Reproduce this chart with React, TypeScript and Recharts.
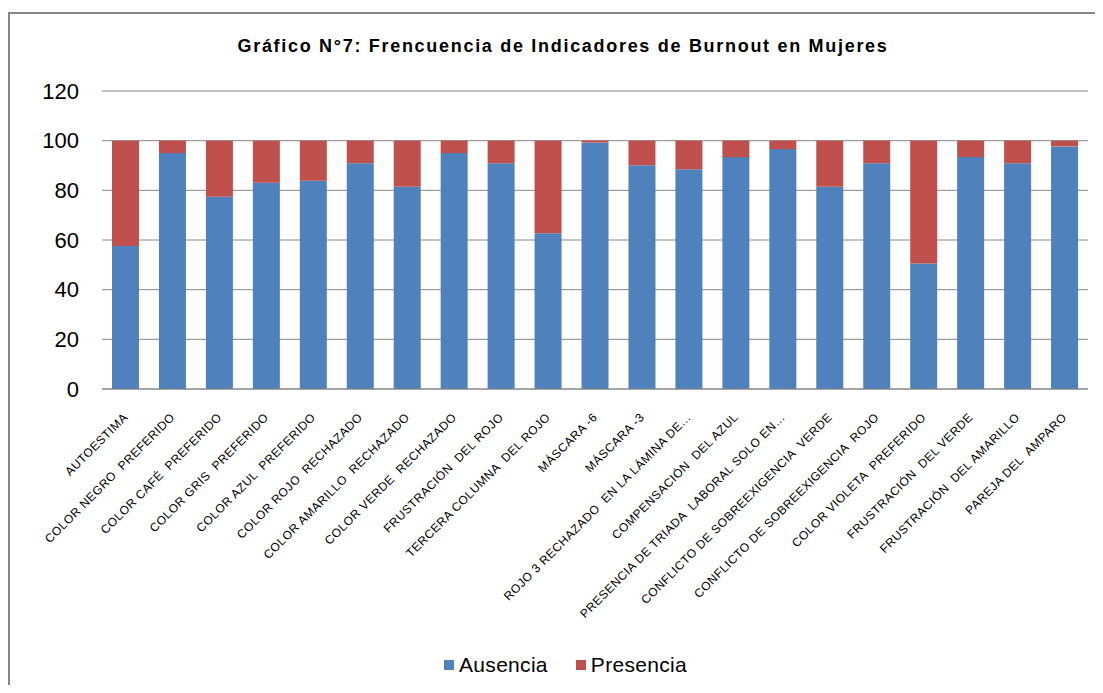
import React from 'react';
import { BarChart, Bar, XAxis, YAxis, CartesianGrid, Legend } from 'recharts';

const categories = [
  'AUTOESTIMA',
  'COLOR NEGRO  PREFERIDO',
  'COLOR CAFÉ  PREFERIDO',
  'COLOR GRIS  PREFERIDO',
  'COLOR AZUL  PREFERIDO',
  'COLOR ROJO  RECHAZADO',
  'COLOR AMARILLO  RECHAZADO',
  'COLOR VERDE  RECHAZADO',
  'FRUSTRACIÓN  DEL ROJO',
  'TERCERA COLUMNA  DEL ROJO',
  'MÁSCARA -6',
  'MÁSCARA -3',
  'ROJO 3 RECHAZADO  EN LA LÁMINA DE…',
  'COMPENSACIÓN  DEL AZUL',
  'PRESENCIA DE TRIADA  LABORAL SOLO EN…',
  'CONFLICTO DE SOBREEXIGENCIA  VERDE',
  'CONFLICTO DE SOBREEXIGENCIA  ROJO',
  'COLOR VIOLETA  PREFERIDO',
  'FRUSTRACIÓN  DEL VERDE',
  'FRUSTRACIÓN  DEL AMARILLO',
  'PAREJA DEL  AMPARO',
];

const ausencia = [57.6, 95.0, 77.4, 83.1, 83.9, 90.9, 81.4, 95.0, 90.9, 62.7, 99.2, 90.1, 88.5, 93.4, 96.6, 81.4, 90.9, 50.5, 93.4, 90.9, 97.7];
const presencia = [42.4, 5.0, 22.6, 16.9, 16.1, 9.1, 18.6, 5.0, 9.1, 37.3, 0.8, 9.9, 11.5, 6.6, 3.4, 18.6, 9.1, 49.5, 6.6, 9.1, 2.3];

const yTicks = [0, 20, 40, 60, 80, 100, 120];

const data = categories.map((name, i) => ({
  name,
  Ausencia: ausencia[i],
  Presencia: presencia[i],
}));

const BLUE = '#4F81BD';
const RED = '#C0504D';
const GRID = '#868686';
const FONT = 'Liberation Sans, Arial, sans-serif';

const XTick = (props: any) => {
  const { x, y, payload } = props;
  return (
    <g transform={`translate(${x + 3},${y + 21})`}>
      <text
        transform="rotate(-45)"
        textAnchor="end"
        x={0}
        y={0}
        fontSize={12}
        letterSpacing={0.5}
        fontFamily={FONT}
        fill="#000"
        style={{ whiteSpace: 'pre' }}
      >
        {payload.value}
      </text>
    </g>
  );
};

const LegendContent = () => (
  <div
    style={{
      display: 'flex',
      justifyContent: 'center',
      alignItems: 'center',
      fontFamily: FONT,
      fontSize: 21,
      color: '#000',
      paddingLeft: 20,
    }}
  >
    <span style={{ width: 10, height: 10, background: BLUE, marginRight: 5 }} />
    <span style={{ marginRight: 28, letterSpacing: 0.3 }}>Ausencia</span>
    <span style={{ width: 10, height: 10, background: RED, marginRight: 5 }} />
    <span style={{ letterSpacing: 0.3 }}>Presencia</span>
  </div>
);

export default function App() {
  return (
    <div style={{ position: 'relative', width: 1087, height: 677 }}>
      <div
        style={{
          position: 'absolute',
          left: -1,
          top: 4,
          width: 1096,
          height: 681,
          boxSizing: 'border-box',
          borderTop: `2px solid ${GRID}`,
          borderLeft: `3px solid ${GRID}`,
        }}
      />
      <div
        style={{
          position: 'absolute',
          left: 0,
          top: 28,
          width: 1110,
          textAlign: 'center',
          fontFamily: FONT,
          fontWeight: 'bold',
          fontSize: 18,
          letterSpacing: 1.7,
          color: '#000',
        }}
      >
        Gráfico N°7: Frencuencia de Indicadores de Burnout en Mujeres
      </div>
      <BarChart
        width={1095}
        height={677}
        data={data}
        margin={{ top: 83, right: 15, left: 34, bottom: 0 }}
        barSize={27}
      >
        <CartesianGrid vertical={false} stroke={GRID} strokeWidth={1} />
        <YAxis
          domain={[0, 120]}
          ticks={yTicks}
          width={60}
          axisLine={false}
          tickLine={false}
          tickMargin={17}
          tick={{ fontSize: 22, fill: '#000', fontFamily: FONT }}
        />
        <XAxis
          dataKey="name"
          interval={0}
          height={296}
          axisLine={{ stroke: GRID }}
          tickLine={false}
          tick={<XTick />}
        />
        <Legend
          layout="horizontal"
          verticalAlign="middle"
          align="center"
          content={<LegendContent />}
          wrapperStyle={{ top: 645, left: 0, width: 1095 }}
        />
        <Bar dataKey="Ausencia" stackId="a" fill={BLUE} isAnimationActive={false} />
        <Bar dataKey="Presencia" stackId="a" fill={RED} isAnimationActive={false} />
      </BarChart>
    </div>
  );
}
